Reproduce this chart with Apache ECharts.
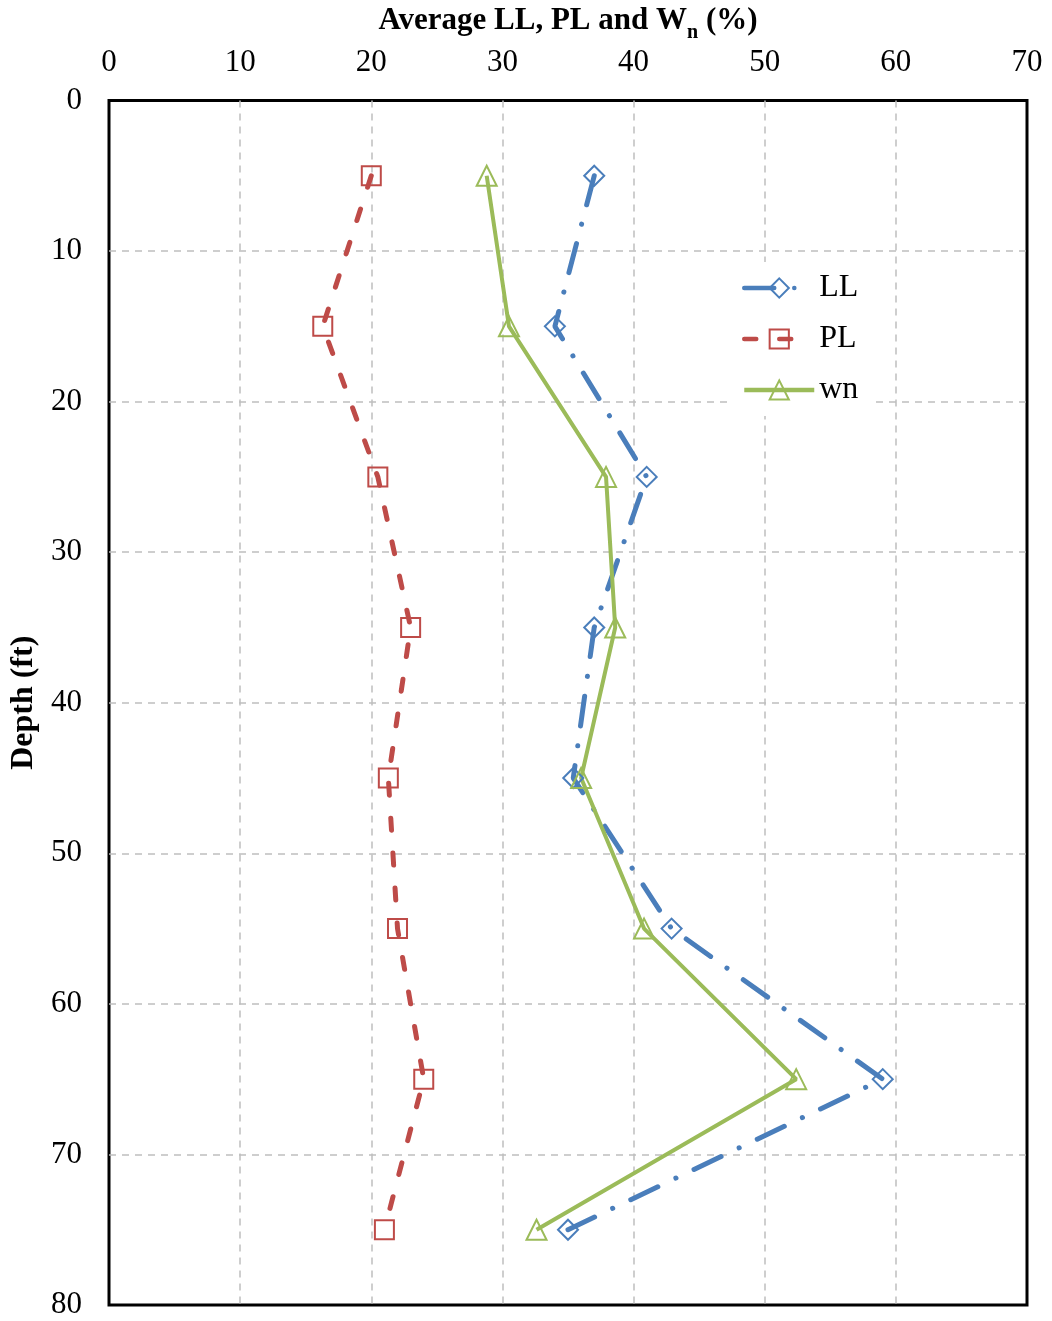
<!DOCTYPE html>
<html>
<head>
<meta charset="utf-8">
<script src="https://cdn.jsdelivr.net/npm/echarts@6/dist/echarts.min.js"></script>
<style>html,body{margin:0;padding:0;background:#fff}#c{width:1052px;height:1321px}</style>
</head>
<body>
<div id="c"></div>
<script>
var depths = [5, 15, 25, 35, 45, 55, 65, 75];
var llValues = [37.0, 34.0, 41.0, 37.0, 35.4, 42.9, 59.0, 35.0];
var plValues = [20.0, 16.3, 20.5, 23.0, 21.3, 22.0, 24.0, 21.0];
var wnValues = [28.8, 30.5, 37.9, 38.6, 36.0, 40.8, 52.4, 32.6];
var xTicks = [0, 10, 20, 30, 40, 50, 60, 70];
var yTicks = [0, 10, 20, 30, 40, 50, 60, 70, 80];

function pairs(vals) { return vals.map(function (v, i) { return [v, depths[i]]; }); }
var FONT = '"Liberation Serif", "Times New Roman", serif';

var chart = echarts.init(document.getElementById('c'), null, { renderer: 'canvas' });
chart.setOption({
  backgroundColor: '#fff',
  animation: false,
  textStyle: { fontFamily: FONT },
  grid: { left: 109, right: 25, top: 100, bottom: 16, show: true, borderColor: '#000', borderWidth: 3, backgroundColor: 'transparent' },
  xAxis: {
    type: 'value', position: 'top', min: xTicks[0], max: xTicks[xTicks.length - 1], interval: 10,
    axisLine: { show: false }, axisTick: { show: false },
    axisLabel: { fontFamily: FONT, fontSize: 31, color: '#000', margin: 22 },
    splitLine: { show: true, showMinLine: false, showMaxLine: false, lineStyle: { color: '#bfbfbf', width: 1.5, type: [7, 6] } },
    name: '{t|Average LL, PL and W}{s|n}{t| (%)}', nameLocation: 'middle', nameGap: 58,
    nameTextStyle: {
      rich: {
        t: { fontFamily: FONT, fontSize: 31, fontWeight: 'bold', color: '#000', lineHeight: 44 },
        s: { fontFamily: FONT, fontSize: 20, fontWeight: 'bold', color: '#000', lineHeight: 20, verticalAlign: 'bottom' }
      }
    }
  },
  yAxis: {
    type: 'value', inverse: true, min: yTicks[0], max: yTicks[yTicks.length - 1], interval: 10,
    axisLine: { show: false }, axisTick: { show: false },
    axisLabel: { fontFamily: FONT, fontSize: 31, color: '#000', margin: 27 },
    splitLine: { show: true, showMinLine: false, showMaxLine: false, lineStyle: { color: '#bfbfbf', width: 1.5, type: [7, 6] } },
    name: 'Depth (ft)', nameLocation: 'middle', nameGap: 69,
    nameTextStyle: { fontFamily: FONT, fontSize: 32, fontWeight: 'bold', color: '#000' }
  },
  legend: {
    orient: 'vertical', left: 732, top: 262, itemWidth: 70, itemHeight: 24, itemGap: 19,
    backgroundColor: '#fff', padding: [10, 14, 10, 10],
    lineStyle: { width: 4.5 },
    textStyle: { fontFamily: FONT, fontSize: 32, color: '#000' },
    data: ['LL', 'PL', 'wn']
  },
  series: [
    {
      name: 'LL', type: 'line', data: pairs(llValues), z: 3,
      symbol: 'diamond', symbolSize: 20,
      itemStyle: { color: 'rgba(0,0,0,0)', borderColor: '#4a7ebb', borderWidth: 2 },
      lineStyle: { color: '#4a7ebb', width: 5, type: [30, 20, 0.1, 20], cap: 'round' }
    },
    {
      name: 'PL', type: 'line', data: pairs(plValues), z: 3,
      symbol: 'rect', symbolSize: 19,
      itemStyle: { color: 'rgba(0,0,0,0)', borderColor: '#be4b48', borderWidth: 2 },
      lineStyle: { color: '#be4b48', width: 5, type: [12, 23], cap: 'round' }
    },
    {
      name: 'wn', type: 'line', data: pairs(wnValues), z: 3,
      symbol: 'triangle', symbolSize: 20,
      itemStyle: { color: 'rgba(0,0,0,0)', borderColor: '#9bbb59', borderWidth: 2 },
      lineStyle: { color: '#9bbb59', width: 4, type: 'solid' }
    }
  ]
});
</script>
</body>
</html>
